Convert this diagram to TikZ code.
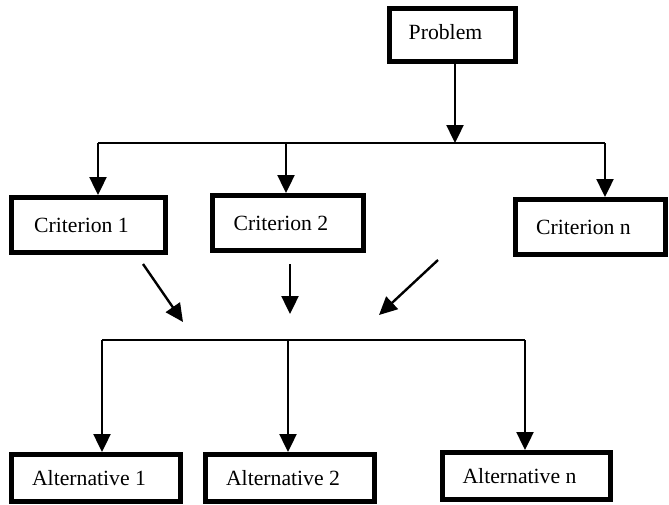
\documentclass[tikz,border=0pt]{standalone}
\usepackage{fontspec}
\setmainfont{Liberation Serif}
\usetikzlibrary{arrows.meta}

\begin{document}
\begin{tikzpicture}
            [x=1pt,y=-1pt,
             box/.style={draw,line width=5pt,inner sep=0pt},
             txt/.style={xshift=-7pt,font=\fontsize{21.7}{26}\selectfont},
             arr/.style={line width=2.4pt,-{Triangle[length=18pt,width=17pt]}},
             bus/.style={line width=2pt}]
            \useasboundingbox (0,0) rectangle (669,504);
            \node[box,minimum width=126pt,minimum height=53pt,label={[txt,yshift=3pt]center:Problem}] (problem) at (452.5,35) {};
            \node[box,minimum width=154pt,minimum height=55pt,label={[txt]center:Criterion 1}] (crit1) at (88.5,225) {};
            \node[box,minimum width=151pt,minimum height=55pt,label={[txt]center:Criterion 2}] (crit2) at (288,223) {};
            \node[box,minimum width=150pt,minimum height=55pt,label={[txt]center:Criterion n}] (critn) at (590.5,227) {};
            \node[box,minimum width=169pt,minimum height=47pt,label={[txt]center:Alternative 1}] (alt1) at (96,478) {};
            \node[box,minimum width=169pt,minimum height=47pt,label={[txt]center:Alternative 2}] (alt2) at (290,478) {};
            \node[box,minimum width=168pt,minimum height=47pt,label={[txt]center:Alternative n}] (altn) at (526.5,476) {};
            % upper bus
            \coordinate (busL) at (98,143);
            \coordinate (busM) at (286,143);
            \coordinate (busR) at (605,143);
            \coordinate (busP) at (455,143);
            \draw[bus] (busL) -- (busR);
            \draw[arr] ([yshift=4pt]busP |- problem.south) -- (busP);
            \draw[arr] (busL) -- (busL |- crit1.north);
            \draw[arr] (busM) -- (busM |- crit2.north);
            \draw[arr] (busR) -- (busR |- critn.north);
            % lower bus
            \coordinate (lowL) at (102,340);
            \coordinate (lowM) at (288,340);
            \coordinate (lowR) at (525,340);
            \draw[bus] (lowL) -- (lowR);
            \draw[arr] (lowL) -- (lowL |- alt1.north);
            \draw[arr] (lowM) -- (lowM |- alt2.north);
            \draw[arr] (lowR) -- (lowR |- altn.north);
            % criteria to alternatives
            \coordinate (d1) at (143,264);
            \coordinate (e1) at (183,322);
            \coordinate (d2) at (290,264);
            \coordinate (e2) at (290,314);
            \coordinate (d3) at (438,260);
            \coordinate (e3) at (379,315);
            \draw[arr] (d1) -- (e1);
            \draw[arr] (d2) -- (e2);
            \draw[arr] (d3) -- (e3);
        \end{tikzpicture}
\end{document}
